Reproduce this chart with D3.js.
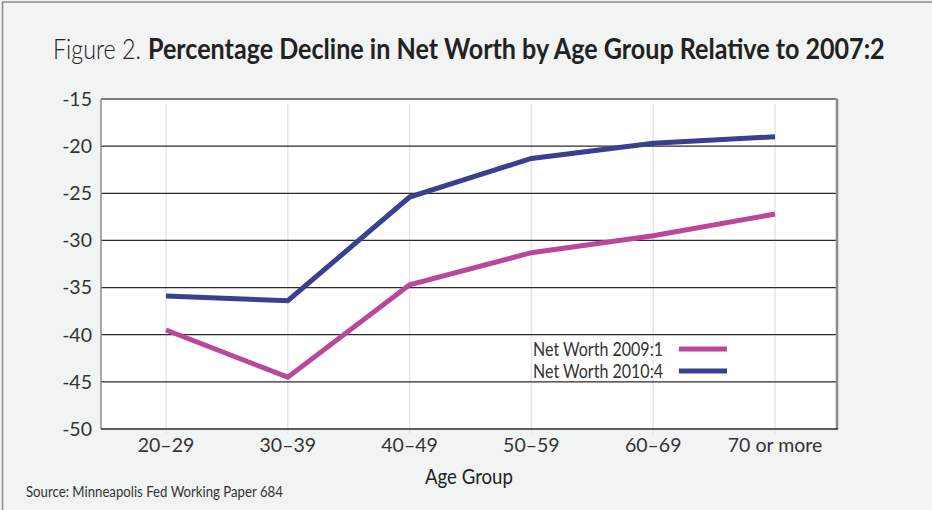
<!DOCTYPE html>
<html><head><meta charset="utf-8">
<script src="https://cdn.jsdelivr.net/npm/d3@7"></script>
<style>
html,body{margin:0;padding:0;background:#f2f3f3;}
svg{display:block;font-family:Lato,"Open Sans",sans-serif;}
</style></head>
<body>
<svg id="chart" width="932" height="510"></svg>
<script>
const categories = ["20–29","30–39","40–49","50–59","60–69","70 or more"];
const series2009 = [-39.5,-44.5,-34.7,-31.3,-29.5,-27.2];
const series2010 = [-35.9,-36.4,-25.4,-21.3,-19.7,-19.0];
const yTicks = [-15,-20,-25,-30,-35,-40,-45,-50];
const seriesNames = ["Net Worth 2009:1","Net Worth 2010:4"];
const seriesColors = ["#b9479b","#3b3f8e"];

const svg = d3.select("#chart");
const W = 932, H = 510;
const plot = {left:101, right:836, top:99, bottom:429};

// frame
svg.append("rect").attr("width",W).attr("height",H).attr("fill","#f2f3f3");
svg.append("line").attr("x1",2).attr("x2",W).attr("y1",2).attr("y2",2).attr("stroke","#8c8c8c").attr("stroke-width",1.5);
svg.append("line").attr("x1",2.5).attr("x2",2.5).attr("y1",2).attr("y2",H).attr("stroke","#8c8c8c").attr("stroke-width",1.5);

// condensed text helper: scale horizontally to a target width
function condensed(txt, x0, y0, size, weight, target, fill){
  const g = svg.append("g");
  const t = g.append("text").attr("x",0).attr("y",0).attr("font-size",size)
    .attr("font-weight",weight).attr("fill",fill).text(txt);
  const w = t.node().getComputedTextLength();
  g.attr("transform",`translate(${x0},${y0}) scale(${target/w},1)`);
  return t;
}

// title (two parts)
condensed("Figure 2.", 53, 59, 28, 300, 88, "#222");
condensed("Percentage Decline in Net Worth by Age Group Relative to 2007:2", 148, 59, 28, 700, 737, "#222");

const x = d3.scalePoint().domain(categories).range([166,775]);
const y = d3.scaleLinear().domain([-50,-15]).range([plot.bottom, plot.top]);

svg.append("rect").attr("x",plot.left).attr("y",plot.top).attr("width",plot.right-plot.left).attr("height",plot.bottom-plot.top).attr("fill","#fff");

// vertical light gridlines
svg.append("g").selectAll("line").data(categories).join("line")
  .attr("x1",d=>x(d)).attr("x2",d=>x(d)).attr("y1",plot.top+5).attr("y2",plot.bottom+5)
  .attr("stroke","#e6e6e6").attr("stroke-width",1.5);

// horizontal gridlines
svg.append("g").selectAll("line").data(yTicks.filter(t=>t!==-15 && t!==-50)).join("line")
  .attr("x1",plot.left).attr("x2",plot.right).attr("y1",d=>y(d)).attr("y2",d=>y(d))
  .attr("stroke","#2b2b2b").attr("stroke-width",1.3);

// borders
svg.append("line").attr("x1",plot.left).attr("x2",plot.right).attr("y1",y(-15)).attr("y2",y(-15)).attr("stroke","#555").attr("stroke-width",1.3);
svg.append("line").attr("x1",plot.left).attr("x2",plot.left).attr("y1",plot.top).attr("y2",plot.bottom).attr("stroke","#8c8c8c").attr("stroke-width",1.5);
svg.append("line").attr("x1",plot.right+1).attr("x2",plot.right+1).attr("y1",plot.top-0.5).attr("y2",plot.bottom).attr("stroke","#8c8c8c").attr("stroke-width",2.5);
svg.append("line").attr("x1",plot.left).attr("x2",plot.right+2).attr("y1",y(-50)).attr("y2",y(-50)).attr("stroke","#2b2b2b").attr("stroke-width",1.5);

// y tick labels
svg.append("g").selectAll("text").data(yTicks).join("text")
  .attr("x",92).attr("y",d=>y(d)).attr("dy","0.35em").attr("text-anchor","end")
  .attr("font-size",19.5).attr("fill","#333").text(d=>d);

// x tick labels
svg.append("g").selectAll("text").data(categories).join("text")
  .attr("x",d=>x(d)).attr("y",445).attr("dy","0.35em").attr("text-anchor","middle")
  .attr("font-size",19.5).attr("fill","#333").text(d=>d);

condensed("Age Group", 425, 484, 21, 400, 88, "#222");
condensed("Source: Minneapolis Fed Working Paper 684", 26, 497, 15, 400, 257, "#333");

// lines
const line = d3.line().x((d,i)=>x(categories[i])).y(d=>y(d));
[series2009, series2010].forEach((s,i)=>{
  svg.append("path").datum(s).attr("d",line).attr("fill","none")
    .attr("stroke",seriesColors[i]).attr("stroke-width",5).attr("stroke-linejoin","miter");
});

// legend
const legY = [349, 371];
seriesNames.forEach((n,i)=>{
  condensed(n, 533, legY[i]+6.5, 19, 400, 130, "#333");
  svg.append("line").attr("x1",679).attr("x2",727).attr("y1",legY[i]).attr("y2",legY[i])
    .attr("stroke",seriesColors[i]).attr("stroke-width",5);
});
</script>
</body></html>
